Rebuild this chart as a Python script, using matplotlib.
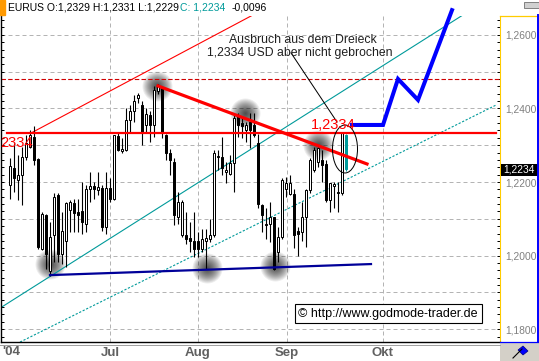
import matplotlib
matplotlib.use("Agg")
import matplotlib.pyplot as plt
import numpy as np
from matplotlib.patches import Rectangle, Ellipse, Polygon
from matplotlib.lines import Line2D
from matplotlib.ticker import MultipleLocator, FuncFormatter

plt.rcParams['font.family'] = ['Liberation Sans', 'DejaVu Sans']

# EUR/USD Tageskerzen (x = Handelstag-Index)
opens = [1.2191, 1.2239, 1.2205, 1.2219, 1.2269, 1.2296, 1.2323, 1.2262, 1.2018, 1.2111,
         1.1959, 1.2055, 1.2164, 1.2005, 1.2041, 1.2123, 1.2143, 1.2118, 1.2120, 1.2087,
         1.2181, 1.2190, 1.2178, 1.2184, 1.2077, 1.2184, 1.2155, 1.2325, 1.2283, 1.2287,
         1.2369, 1.2392, 1.2428, 1.2410, 1.2355, 1.2383, 1.2355, 1.2448, 1.2456, 1.2328,
         1.2278, 1.2255, 1.2105, 1.2056, 1.2057, 1.2048, 1.2039, 1.2039, 1.2018, 1.2041,
         1.2046, 1.2055, 1.2269, 1.2269, 1.2228, 1.2221, 1.2251, 1.2378, 1.2360, 1.2342,
         1.2364, 1.2355, 1.2305, 1.2137, 1.2082, 1.2087, 1.2105, 1.2009, 1.2050, 1.2182,
         1.2168, 1.2168, 1.2068, 1.2064, 1.2105, 1.2178, 1.2232, 1.2255, 1.2260, 1.2250,
         1.2150, 1.2190, 1.2173, 1.2169, 1.2329]
highs = [1.2264, 1.2305, 1.2273, 1.2296, 1.2328, 1.2342, 1.2351, 1.2265, 1.2118, 1.2114,
         1.2091, 1.2169, 1.2169, 1.2118, 1.2146, 1.2150, 1.2155, 1.2155, 1.2200, 1.2191,
         1.2228, 1.2200, 1.2228, 1.2192, 1.2228, 1.2210, 1.2328, 1.2333, 1.2319, 1.2401,
         1.2410, 1.2437, 1.2442, 1.2420, 1.2401, 1.2392, 1.2460, 1.2465, 1.2460, 1.2330,
         1.2290, 1.2265, 1.2173, 1.2150, 1.2118, 1.2091, 1.2118, 1.2064, 1.2073, 1.2073,
         1.2100, 1.2287, 1.2287, 1.2323, 1.2255, 1.2273, 1.2383, 1.2387, 1.2374, 1.2364,
         1.2387, 1.2387, 1.2330, 1.2141, 1.2128, 1.2146, 1.2105, 1.2077, 1.2210, 1.2214,
         1.2219, 1.2182, 1.2077, 1.2146, 1.2182, 1.2264, 1.2296, 1.2296, 1.2287, 1.2260,
         1.2196, 1.2200, 1.2200, 1.2337, 1.2331]
lows = [1.2155, 1.2173, 1.2150, 1.2137, 1.2260, 1.2292, 1.2246, 1.2018, 1.2014, 1.1964,
        1.1945, 1.1982, 1.1982, 1.1977, 1.1968, 1.2064, 1.2064, 1.2064, 1.2059, 1.2064,
        1.2146, 1.2155, 1.2164, 1.2068, 1.2060, 1.2146, 1.2150, 1.2283, 1.2278, 1.2283,
        1.2333, 1.2364, 1.2415, 1.2301, 1.2333, 1.2310, 1.2323, 1.2440, 1.2319, 1.2260,
        1.2219, 1.2083, 1.2087, 1.2050, 1.2032, 1.2009, 1.1996, 1.1996, 1.2009, 1.1964,
        1.2037, 1.2050, 1.2232, 1.2219, 1.2196, 1.2219, 1.2173, 1.2323, 1.2319, 1.2310,
        1.2292, 1.2323, 1.2130, 1.2064, 1.2046, 1.2037, 1.1960, 1.1982, 1.2046, 1.2160,
        1.2164, 1.2020, 1.2000, 1.2040, 1.2023, 1.2170, 1.2226, 1.2240, 1.2200, 1.2146,
        1.2118, 1.2130, 1.2118, 1.2164, 1.2229]
closes = [1.2244, 1.2210, 1.2219, 1.2269, 1.2305, 1.2328, 1.2260, 1.2023, 1.2114, 1.2005,
          1.2050, 1.2160, 1.2005, 1.2068, 1.2143, 1.2146, 1.2117, 1.2111, 1.2091, 1.2182,
          1.2190, 1.2181, 1.2186, 1.2077, 1.2184, 1.2155, 1.2328, 1.2287, 1.2290, 1.2369,
          1.2392, 1.2419, 1.2437, 1.2337, 1.2384, 1.2355, 1.2451, 1.2460, 1.2333, 1.2278,
          1.2260, 1.2110, 1.2146, 1.2146, 1.2046, 1.2039, 1.2018, 1.2018, 1.2046, 1.2048,
          1.2055, 1.2278, 1.2271, 1.2237, 1.2233, 1.2251, 1.2375, 1.2355, 1.2351, 1.2355,
          1.2342, 1.2328, 1.2141, 1.2109, 1.2087, 1.2105, 1.1964, 1.2050, 1.2205, 1.2196,
          1.2196, 1.2055, 1.2059, 1.2105, 1.2178, 1.2260, 1.2287, 1.2292, 1.2246, 1.2150,
          1.2196, 1.2195, 1.2169, 1.2333, 1.2234]

month_pos = [25, 47, 69.25, 93.25]
month_labels = ['Jul', 'Aug', 'Sep', 'Okt']

# Trendlinien (Tag, Kurs)
red_chan_x, red_chan_y = [5.25, 60.75], [1.2333, 1.2654]
teal_chan_x, teal_chan_y = [-2.25, 113.25], [1.1859, 1.2654]
teal_low_x, teal_low_y = [2.5, 121.5], [1.1765, 1.2409]
tri_x, tri_y = [37, 89.25], [1.2461, 1.2249]
support_x, support_y = [10, 90.25], [1.1947, 1.1977]
level = 1.2334
level_x = [-0.75, 121.5]
old_high = 1.2480
forecast_x = [85.5, 93.25, 97, 102, 110.5]
forecast_y = [1.2355, 1.2355, 1.2480, 1.2423, 1.2667]
blob_x = [36.75, 58.75, 77, 10, 49.25, 66.25]
blob_y = [1.2461, 1.2388, 1.2301, 1.1976, 1.1966, 1.1972]

W, H = 539, 361
def fx(p): return p / W
def fy(p): return 1 - p / H

fig = plt.figure(figsize=(W / 100, H / 100), dpi=100)
ax = fig.add_axes([fx(1), fy(342), (500 - 1) / W, (342 - 16) / H])
ax.set_xlim(-2.25, 122.5)
ax.set_ylim(1.176522, 1.265109)

# Gitter
ax.yaxis.set_major_locator(MultipleLocator(0.01))
ax.yaxis.set_minor_locator(MultipleLocator(0.002))
ax.yaxis.set_major_formatter(FuncFormatter(
    lambda v, pos: f"{v:.4f}".replace('.', ',') if round(v * 100) % 2 == 0 else ''))
ax.set_xticks(month_pos, month_labels)
ax.grid(True, color='#b4b4b4', linestyle=(0, (4, 3)), linewidth=0.72)
ax.set_axisbelow(True)
ax.tick_params(axis='y', which='both', left=True, right=True, direction='in',
               length=2, width=0.72, color='black', labelleft=False, labelright=True,
               labelsize=7.4, labelcolor='#808080', pad=4)
ax.tick_params(axis='x', length=0, pad=3.5, labelsize=9.5, labelcolor='#606060')
for t in ax.get_xticklabels():
    t.set_fontweight('bold')
ax.spines['top'].set_visible(False)
ax.spines['right'].set_color('#ffcc00')
ax.spines['left'].set_linewidth(1)
ax.spines['bottom'].set_linewidth(1)

# graue Markierungen
for bx, by in zip(blob_x, blob_y):
    for r in np.linspace(15, 1, 15):
        ax.scatter([bx], [by], s=(1.44 * r) ** 2, color='black', alpha=0.07,
                   linewidths=0, zorder=1)

# Linien
ax.plot(red_chan_x, red_chan_y, color='red', lw=0.8, zorder=2)
ax.plot(teal_chan_x, teal_chan_y, color='#009a9a', lw=0.8, zorder=2)
ax.plot(teal_low_x, teal_low_y, color='#009a9a', lw=0.8, ls=(0, (2, 1.5)), zorder=2)
ax.axhline(old_high, color='#d00000', lw=0.8, ls=(0, (4, 2)), zorder=2)

# Kerzen
o, h, l, c = map(np.array, (opens, highs, lows, closes))
idx = np.arange(len(o))
face = np.where(c >= o, 'white', 'black').astype(object)
edge = np.array(['black'] * len(o), dtype=object)
face[-1] = '#009a9a'
edge[-1] = '#009a9a'
ax.vlines(idx, l, h, colors=list(edge), lw=0.8, zorder=3)
ax.bar(idx, np.maximum(np.abs(c - o), 0.0003), bottom=np.minimum(o, c), width=0.62,
       color=list(face), edgecolor=list(edge), linewidth=0.72, zorder=3.5)

ax.plot(level_x, [level, level], color='red', lw=1.6, zorder=4)
ax.plot(tri_x, tri_y, color='red', lw=2.3, zorder=4)
ax.plot(support_x, support_y, color='#000099', lw=1.6, zorder=4)
ax.plot(forecast_x, forecast_y, color='#0000ff', lw=2.9, zorder=5, clip_on=False,
        solid_joinstyle='miter')

ax.add_patch(Ellipse((83.75, 1.22897), 6.25, 0.01304, fill=False, ec='black', lw=0.72, zorder=5))
ax.plot([70.25, 81.75], [1.2551, 1.2363], color='black', lw=0.72, zorder=5)

ax.text(5.75, 1.2294, '2334', ha='right', va='baseline', color='red', fontsize=10.5, zorder=6)
ax.text(80.9, 1.2344, '1,2334', ha='center', va='baseline', color='red', fontsize=10.5, zorder=6)
ax.text(73.2, 1.2577, 'Ausbruch aus dem Dreieck', ha='center', va='baseline',
        color='#202020', fontsize=8.8, zorder=6)
ax.text(72.5, 1.2542, '1,2334 USD aber nicht gebrochen', ha='center', va='baseline',
        color='#202020', fontsize=8.8, zorder=6)

# Copyright-Box
fig.text(fx(388), fy(313.5), '\u00a9 http://www.godmode-trader.de', ha='center', va='center',
         fontsize=9, color='black',
         bbox=dict(boxstyle='square,pad=0.3', fc='white', ec='black', lw=0.8))

# Kopfzeile
fig.add_artist(Rectangle((0, fy(15)), fx(5), 15 / H, color='#ff9900', transform=fig.transFigure))
fig.text(fx(8), fy(7.5), 'EURUS O:1,2329 H:1,2331 L:1,2229', va='center', fontsize=7.5)
fig.text(fx(180), fy(7.5), 'C: 1,2234', va='center', fontsize=7.5, color='#009a9a')
fig.text(fx(232), fy(7.5), '-0,0096', va='center', fontsize=7.5)
fig.add_artist(Rectangle((fx(524), fy(8)), fx(15), 6 / H, fc='#d0d0d0', ec='#707070', lw=0.6,
                         transform=fig.transFigure))

# rechte Skala
fig.add_artist(Line2D([fx(500), fx(538)], [fy(15.5), fy(15.5)], color='#ffcc00', lw=0.9))
fig.add_artist(Line2D([fx(538), fx(538)], [fy(15), fy(342)], color='#0000ff', lw=1.4))
fig.add_artist(Line2D([fx(500), fx(538)], [fy(341.5), fy(341.5)], color='#0000ff', lw=0.9))
fig.add_artist(Rectangle((fx(500.5), fy(176)), fx(37), 12 / H, fc='black', ec='none',
                         transform=fig.transFigure))
fig.text(fx(519), fy(170), '1,2234', ha='center', va='center', fontsize=7.4, color='white')

# Ecke unten rechts
fig.add_artist(Rectangle((fx(500), 0), fx(39), 18 / H, fc='#d4d0c8', ec='none',
                         transform=fig.transFigure))
fig.add_artist(Line2D([fx(0), fx(500)], [fy(345), fy(345)], color='#a0a0a0', lw=0.7))
fig.add_artist(Line2D([fx(513), fx(522)], [fy(358), fy(349)], color='black', lw=0.8))
fig.add_artist(Polygon([[fx(518), fy(350)], [fx(523), fy(346)], [fx(528), fy(351)],
                        [fx(523), fy(355)]], closed=True, fc='#0000ff', ec='#000080',
                       lw=0.5, transform=fig.transFigure))

fig.text(fx(2), fy(346), "'04", ha='left', va='top', fontsize=9.5, fontweight='bold',
         color='#606060')

fig.savefig('out.png', dpi=100)
